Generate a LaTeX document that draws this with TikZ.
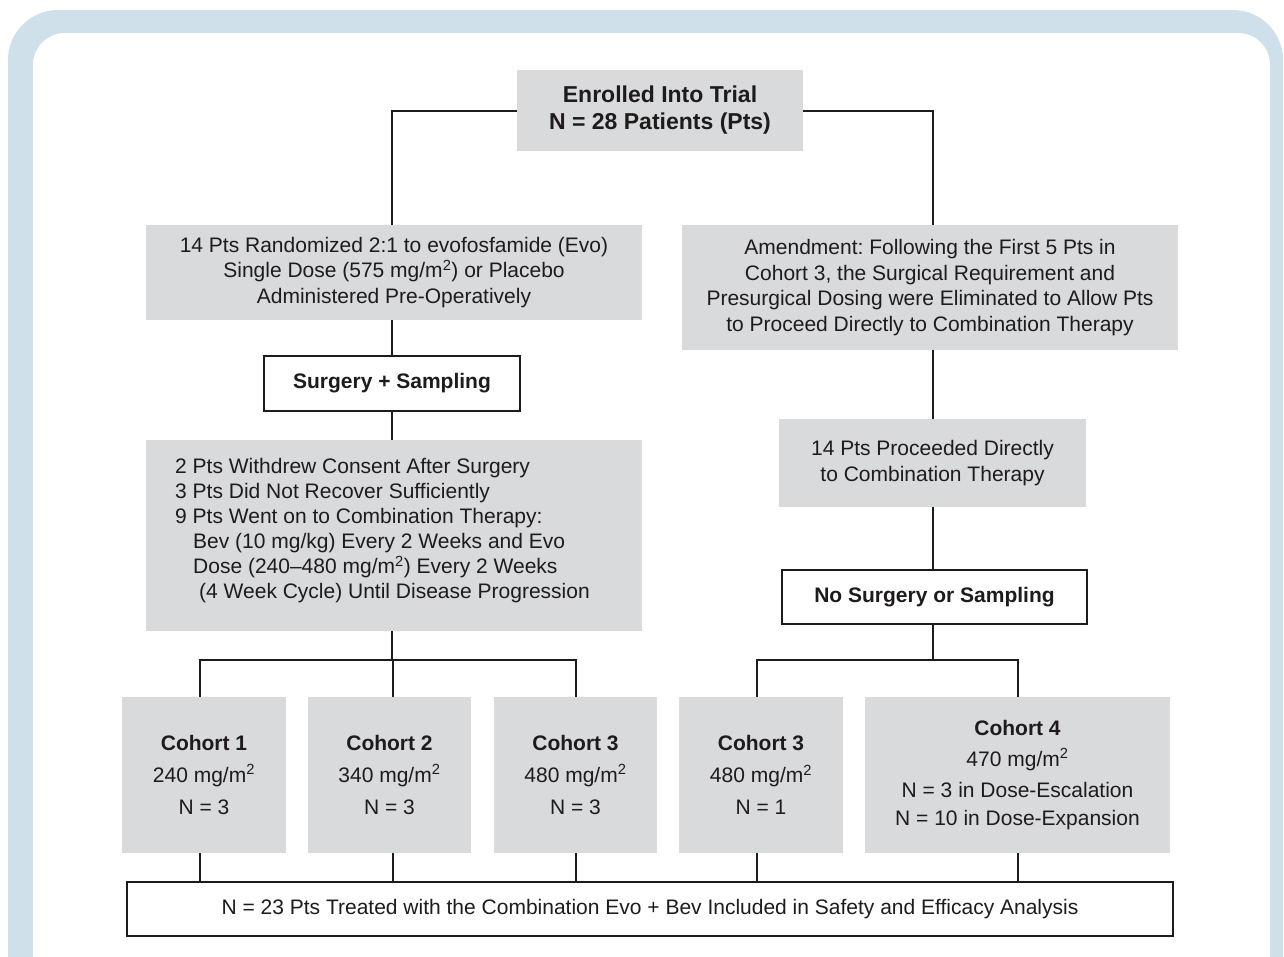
\documentclass[tikz,border=0pt]{standalone}
\usepackage{fontspec}
\setmainfont{Liberation Sans}
\frenchspacing
\definecolor{framebl}{HTML}{CFE0EA}
\definecolor{boxgray}{HTML}{D9DADC}
\definecolor{ink}{HTML}{1E1B1C}
\begin{document}
\begin{tikzpicture}[x=1pt,y=-1pt,
  graybox/.style={fill=boxgray, draw=none, text=ink, align=center, inner sep=0pt, font=\fontsize{21}{25.5}\selectfont},
  whitebox/.style={fill=white, draw=ink, line width=2pt, text=ink, align=center, inner sep=0pt, font=\fontsize{21}{25.5}\selectfont\bfseries},
  link/.style={draw=ink, line width=2pt}]
\useasboundingbox (0,0) rectangle (1284,956);
\begin{scope}
\clip (0,0) rectangle (1284,956);
\fill[framebl, rounded corners=50pt] (8,10) rectangle (1283,1020);
\fill[white, rounded corners=32pt] (33,33) rectangle (1270,1020);
\end{scope}

% nodes
\node[graybox, minimum width=286, minimum height=81, font=\fontsize{23}{27}\selectfont\bfseries] (enroll) at (660,110.5) {Enrolled Into Trial\\N = 28 Patients (Pts)};
\node[graybox, minimum width=496, minimum height=95] (rand) at (394,272.5) {14 Pts Randomized 2:1 to evofosfamide (Evo)\\Single Dose (575 mg/m\textsuperscript{2}) or Placebo\\Administered Pre-Operatively};
\node[whitebox, minimum width=256, minimum height=55] (surg) at (392,383.5) {Surgery + Sampling};
\node[graybox, minimum width=496, minimum height=191] (withd) at (394,535.5) {};
\node[anchor=west, text=ink, align=left, inner sep=0pt, font=\fontsize{21}{25}\selectfont] (withdtxt) at (175,531) {2 Pts Withdrew Consent After Surgery\\3 Pts Did Not Recover Sufficiently\\9 Pts Went on to Combination Therapy:\\\hspace*{18pt}Bev (10 mg/kg) Every 2 Weeks and Evo\\\hspace*{18pt}Dose (240–480 mg/m\textsuperscript{2}) Every 2 Weeks\\\hspace*{24pt}(4 Week Cycle) Until Disease Progression};
\node[graybox, minimum width=496, minimum height=125] (amend) at (930,287.5) {Amendment: Following the First 5 Pts in\\Cohort 3, the Surgical Requirement and\\Presurgical Dosing were Eliminated to Allow Pts\\to Proceed Directly to Combination Therapy};
\node[graybox, minimum width=307, minimum height=88] (proc) at (932.5,463) {14 Pts Proceeded Directly\\to Combination Therapy};
\node[whitebox, minimum width=305, minimum height=54] (nosurg) at (934.5,597) {No Surgery or Sampling};

\node[graybox, minimum width=164, minimum height=156, font=\fontsize{21}{32}\selectfont] (c1) at (204,775) {\textbf{Cohort 1}\\240 mg/m\textsuperscript{2}\\N = 3};
\node[graybox, minimum width=163, minimum height=156, font=\fontsize{21}{32}\selectfont] (c2) at (389.5,775) {\textbf{Cohort 2}\\340 mg/m\textsuperscript{2}\\N = 3};
\node[graybox, minimum width=163, minimum height=156, font=\fontsize{21}{32}\selectfont] (c3a) at (575.5,775) {\textbf{Cohort 3}\\480 mg/m\textsuperscript{2}\\N = 3};
\node[graybox, minimum width=164, minimum height=156, font=\fontsize{21}{32}\selectfont] (c3b) at (761,775) {\textbf{Cohort 3}\\480 mg/m\textsuperscript{2}\\N = 1};
\node[graybox, minimum width=305, minimum height=156, font=\fontsize{21}{31}\selectfont] (c4) at (1017.5,775) {\textbf{Cohort 4}\\470 mg/m\textsuperscript{2}\\N = 3 in Dose-Escalation\\[-3pt]N = 10 in Dose-Expansion};

\node[whitebox, minimum width=1046, minimum height=54, font=\fontsize{21}{25.5}\selectfont] (final) at (650,909) {N = 23 Pts Treated with the Combination Evo + Bev Included in Safety and Efficacy Analysis};

% connector columns
\coordinate (lcol) at (392,0);
\coordinate (rcol) at (933,0);
\coordinate (lsplit) at (392,660);
\coordinate (rsplit) at (933,660);
\coordinate (x1) at (200,0);
\coordinate (x2) at (393,0);
\coordinate (x3) at (576,0);
\coordinate (x4) at (757,0);
\coordinate (x5) at (1018,0);

% connectors
\draw[link] (enroll.west) -| (lcol |- rand.north);
\draw[link] (enroll.east) -| (rcol |- amend.north);
\draw[link] (lcol |- rand.south) -- (lcol |- surg.north);
\draw[link] (lcol |- surg.south) -- (lcol |- withd.north);
\draw[link] (rcol |- amend.south) -- (rcol |- proc.north);
\draw[link] (rcol |- proc.south) -- (rcol |- nosurg.north);
\draw[link] (lcol |- withd.south) -- (lsplit);
\draw[link] (rcol |- nosurg.south) -- (rsplit);
\draw[link] (x1 |- c1.north) |- (lsplit) -| (x3 |- c3a.north);
\draw[link] (x2 |- c2.north) -- (x2 |- lsplit);
\draw[link] (x4 |- c3b.north) |- (rsplit) -| (x5 |- c4.north);
\draw[link] (x1 |- c1.south) -- (x1 |- final.north);
\draw[link] (x2 |- c2.south) -- (x2 |- final.north);
\draw[link] (x3 |- c3a.south) -- (x3 |- final.north);
\draw[link] (x4 |- c3b.south) -- (x4 |- final.north);
\draw[link] (x5 |- c4.south) -- (x5 |- final.north);
\end{tikzpicture}
\end{document}
